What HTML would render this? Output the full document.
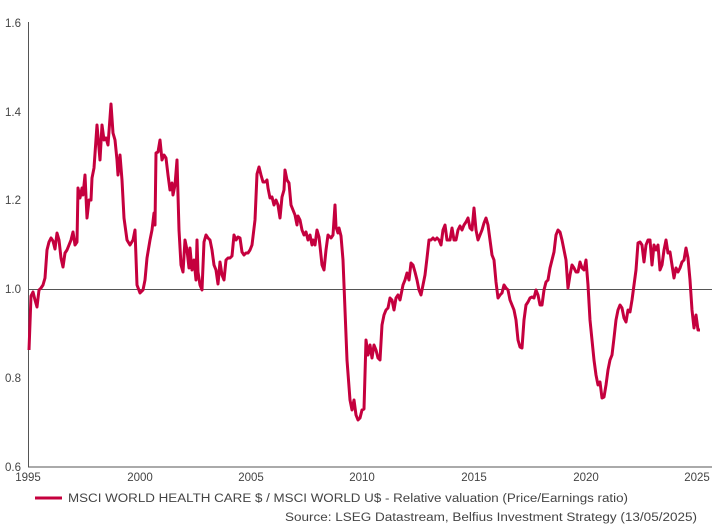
<!DOCTYPE html>
<html><head><meta charset="utf-8"><style>
body{margin:0;background:#fff;width:721px;height:527px;overflow:hidden}
svg{display:block}
text{font-family:"Liberation Sans",sans-serif;fill:#444;font-size:11.5px}
</style></head><body>
<svg width="721" height="527" viewBox="0 0 721 527">
<line x1="28.5" y1="22" x2="28.5" y2="467" stroke="#555" stroke-width="1"/>
<line x1="28" y1="467" x2="712" y2="467" stroke="#555" stroke-width="1"/>
<line x1="28" y1="289.5" x2="712" y2="289.5" stroke="#555" stroke-width="1"/>
<g text-anchor="start">
<text x="5" y="27">1.6</text><text x="5" y="116">1.4</text><text x="5" y="204">1.2</text>
<text x="5" y="293">1.0</text><text x="5" y="382">0.8</text><text x="5" y="471">0.6</text>
</g>
<g text-anchor="middle">
<text x="28" y="481">1995</text><text x="140" y="481">2000</text><text x="251" y="481">2005</text>
<text x="362" y="481">2010</text><text x="474" y="481">2015</text><text x="586" y="481">2020</text><text x="697" y="481">2025</text>
</g>
<polyline fill="none" stroke="#c5003e" stroke-width="3" stroke-linejoin="round" points="29,350 31,296 33,292 35,300 37,307 39,290 41,288 43,285 45,278 47,250 49,242 51,238 53,241 55,249 57,233 59,240 61,258 63,267 65,253 67,250 69,245 71,240 73,232 75,245 77,242 78,188 80,198 82,188 83,195 85,175 87,218 89,200 91,200 92,178 94,168 97,125 100,160 102,125 104,140 106,138 108,145 111,104 113,133 115,140 117,160 118,175 120,155 122,180 124,218 127,240 130,245 133,240 135,230 137,285 140,293 143,290 145,280 147,258 150,240 152,230 154,213 155,225 156,153 158,152 160,140 162,160 164,155 166,158 168,175 170,190 172,183 173,195 175,185 177,160 179,230 181,265 183,272 185,240 187,250 189,268 190,248 192,270 194,260 196,280 197,240 198,272 200,285 202,290 204,242 206,235 208,238 210,240 212,250 214,265 216,270 218,284 220,262 222,275 224,280 226,260 228,258 230,258 232,256 234,235 236,240 238,237 240,238 242,252 244,255 246,253 248,253 250,250 252,245 255,220 257,174 259,167 261,175 263,182 265,182 267,180 268,188 270,198 272,197 274,205 276,200 278,205 280,218 282,197 284,190 285,170 287,180 289,183 291,205 293,210 295,215 297,225 298,216 300,220 302,230 304,235 306,232 308,240 310,235 312,245 313,240 315,245 317,230 319,237 320,246 322,265 324,270 326,250 328,235 330,237 331,238 333,235 335,205 336,227 338,233 339,228 341,236 343,260 345,310 347,360 350,400 352,410 354,400 356,415 358,420 360,418 362,410 364,409 366,340 368,355 370,345 372,358 374,345 376,350 378,358 380,360 382,325 384,315 386,310 388,308 390,298 392,300 394,310 396,298 398,295 400,300 403,285 405,280 407,273 409,280 411,263 413,265 415,272 417,280 419,290 421,295 423,285 425,275 427,258 429,240 431,240 433,238 435,240 437,238 439,240 441,245 443,230 445,225 447,240 450,240 452,228 454,240 456,240 458,230 460,226 462,230 464,225 466,222 468,218 470,228 472,230 474,208 476,230 478,240 480,235 482,230 484,223 486,218 488,225 490,240 492,255 494,260 496,282 498,298 500,295 502,293 504,285 506,288 508,290 510,300 512,305 514,310 516,320 518,340 520,347 522,348 524,320 526,305 528,302 530,298 532,297 534,298 536,290 538,295 540,305 542,305 544,290 546,282 548,280 550,268 552,260 554,252 556,235 558,230 560,232 562,240 564,250 566,260 568,288 570,275 572,265 574,268 576,272 578,272 580,262 582,268 584,270 586,260 588,285 590,320 592,340 594,360 596,375 598,385 600,382 602,398 604,397 606,385 608,370 610,360 612,355 614,338 616,320 618,310 620,305 622,308 624,318 626,322 628,310 630,312 632,300 634,285 636,270 638,243 640,242 642,245 644,262 646,245 648,240 650,240 652,265 654,245 656,250 658,245 660,270 662,265 664,250 666,240 668,253 670,252 672,265 674,278 676,268 678,272 680,268 682,262 684,260 686,248 688,258 690,280 692,310 694,328 696,315 698,330 700,330"/>
<line x1="35" y1="498" x2="62" y2="498" stroke="#c5003e" stroke-width="3"/>
<text x="68" y="502" font-size="12" textLength="560" lengthAdjust="spacingAndGlyphs">MSCI WORLD HEALTH CARE $ / MSCI WORLD U$ - Relative valuation (Price/Earnings ratio)</text>
<text x="285" y="521" font-size="12" textLength="412" lengthAdjust="spacingAndGlyphs">Source: LSEG Datastream, Belfius Investment Strategy (13/05/2025)</text>
</svg>
</body></html>
